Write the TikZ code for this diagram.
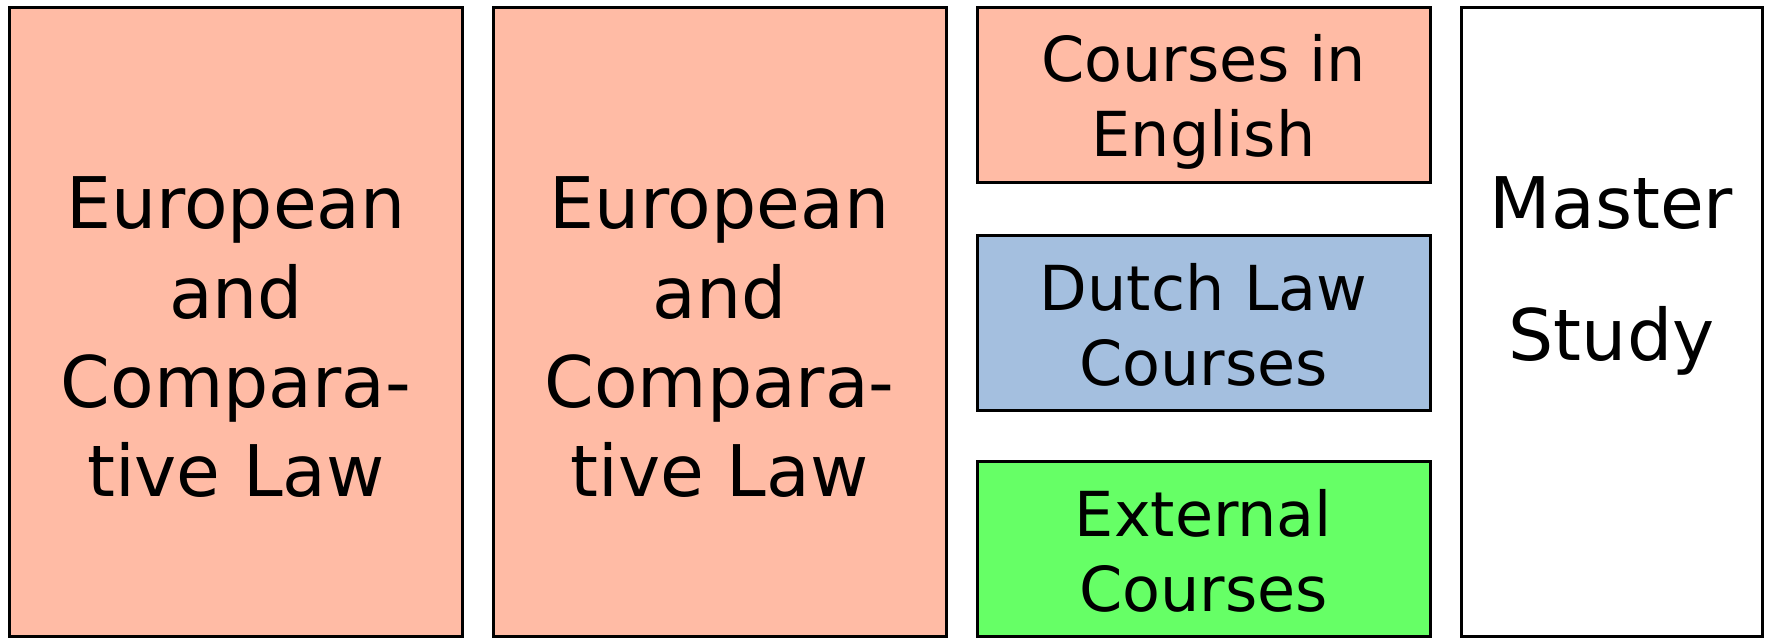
\documentclass[tikz,border=0pt]{standalone}
\usepackage{fontspec}
\setmainfont{DejaVu Sans}
\usepackage{tikz}
\usetikzlibrary{positioning}

\definecolor{salmon}{HTML}{FFBBA5}
\definecolor{dutchblue}{HTML}{A4BFDF}
\definecolor{extgreen}{HTML}{66FF66}

\begin{document}
\begin{tikzpicture}[x=0.5pt,y=-0.5pt,
  box/.style={draw=black,line width=1.5pt,rectangle,inner sep=0pt},
  bigbox/.style={box,minimum width=226.5pt,minimum height=314.5pt},
  smallbox/.style={box,minimum width=226.5pt,minimum height=87.5pt},
  bigtext/.style={align=center,inner sep=0pt,font=\fontsize{35.6pt}{44.7pt}\selectfont},
  smalltext/.style={align=center,inner sep=0pt,font=\fontsize{31pt}{37.5pt}\selectfont}]

\useasboundingbox (0,0) rectangle (1765,638);

% the two big columns
\node[bigbox,fill=salmon] (eurA) at (236,322) {};
\node[bigbox,fill=salmon] (eurB) at (719.5,322) {};

% the three stacked blocks
\node[smallbox,fill=salmon] (english) at (1203.5,94.75) {};
\node[smallbox,fill=dutchblue] (dutch) at (1203.5,322.5) {};
\node[smallbox,fill=extgreen] (external) at (1203.5,549.25) {};

% master column
\node[box,fill=white,minimum width=150.5pt,minimum height=314.5pt] (master) at (1611.5,322) {};

% texts
\node[bigtext] (eurAtext) at ([yshift=-7.7pt]eurA.center) {European\\and\\Compara-\\tive Law};
\node[bigtext] (eurBtext) at ([yshift=-7.7pt]eurB.center) {European\\and\\Compara-\\tive Law};
\node[smalltext] (englishtext) at ([yshift=-3.5pt]english.center) {Courses in\\English};
\node[smalltext] (dutchtext) at ([yshift=-1.2pt]dutch.center) {Dutch Law\\Courses};
\node[smalltext] (externaltext) at ([yshift=-0.8pt]external.center) {External\\Courses};
\node[bigtext,font=\fontsize{35.6pt}{66.4pt}\selectfont] (mastertext) at ([yshift=23pt]master.center) {Master\\Study};

\end{tikzpicture}
\end{document}
